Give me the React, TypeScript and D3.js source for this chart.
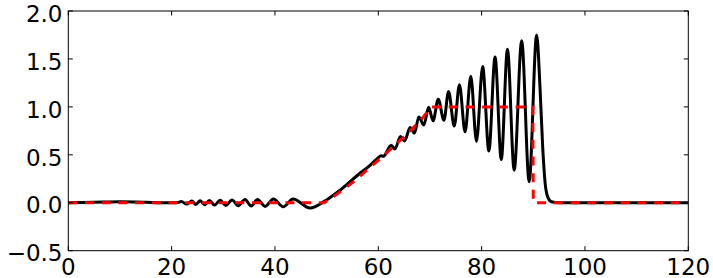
import { useRef, useEffect } from "react";
import * as d3 from "d3";

// black curve: x positions and heights (mostly the extrema)
const waveX = [
  0, 5, 10, 15, 18, 21,
  21.9, 22.9, 23.9, 24.7, 25.5, 26.4, 27.3, 28.3, 29.4, 30.5, 31.7, 32.9,
  34.2, 35.4, 36.6, 38.1, 39.7, 41.6, 43.5, 46.8,
  48, 50, 52.6, 56.5, 58.4, 59.8, 60.6, 61.0,
  62.5, 63.2, 64.3, 65.1, 66.15, 67.0, 67.85, 68.8, 69.75, 70.6,
  71.6, 72.7, 73.6, 74.7, 75.7, 76.8, 77.9, 79.0, 80.2, 81.4,
  82.6, 83.8, 85.0, 86.3, 87.75, 89.2, 90.65,
  91.3, 91.8, 92.3, 92.8, 93.5, 95, 120,
];
const waveY = [
  0, 0.005, 0.01, 0.005, 0, 0,
  0.012, -0.014, 0.018, -0.018, 0.02, -0.02, 0.024, -0.024, 0.027, -0.028, 0.03, -0.03,
  0.033, -0.034, 0.035, -0.038, 0.04, -0.042, 0.04, -0.055,
  -0.035, 0.03, 0.13, 0.31, 0.39, 0.46, 0.49, 0.485,
  0.6, 0.56, 0.69, 0.645, 0.785, 0.725, 0.895, 0.81, 0.995, 0.855,
  1.08, 0.86, 1.16, 0.8, 1.23, 0.74, 1.32, 0.64, 1.42, 0.54,
  1.52, 0.45, 1.6, 0.34, 1.69, 0.22, 1.75,
  1.2, 0.6, 0.2, 0.06, 0.01, 0, 0,
];

// red dashed reference profile
const refX = [0, 49.5, 52, 55, 58, 61, 64, 66, 68, 70.3, 89.9, 90.0, 120];
const refY = [0, 0, 0.09, 0.21, 0.35, 0.49, 0.64, 0.74, 0.85, 1.0, 1.0, 0, 0];

const xTicks = [0, 20, 40, 60, 80, 100, 120];
const yTicks = [-0.5, 0, 0.5, 1.0, 1.5, 2.0];

const W = 713;
const H = 278;

const Chart = () => {
  const svgRef = useRef(null);

  useEffect(() => {
    const svg = d3.select(svgRef.current);
    svg.selectAll("*").remove();

    const left = 68.3, right = 688.3, top = 11, bottom = 250.7;
    const x = d3.scaleLinear().domain([0, 120]).range([left, right]);
    const y = d3.scaleLinear().domain([-0.5, 2.0]).range([bottom, top]);

    const clip = svg.append("clipPath").attr("id", "plotclip");
    clip.append("rect").attr("x", left).attr("y", top)
      .attr("width", right - left).attr("height", bottom - top);

    const plot = svg.append("g").attr("clip-path", "url(#plotclip)");

    const wave = waveX.map((v, i) => [v, waveY[i]]);
    const ref = refX.map((v, i) => [v, refY[i]]);

    plot.append("path")
      .datum(wave)
      .attr("fill", "none")
      .attr("stroke", "#000")
      .attr("stroke-width", 3)
      .attr("stroke-linejoin", "round")
      .attr("d", d3.line().x((d) => x(d[0])).y((d) => y(d[1])).curve(d3.curveMonotoneX));

    plot.append("path")
      .datum(ref)
      .attr("fill", "none")
      .attr("stroke", "#ff0000")
      .attr("stroke-width", 3)
      .attr("stroke-dasharray", "9,7.7")
      .attr("d", d3.line().x((d) => x(d[0])).y((d) => y(d[1])));

    // frame
    svg.append("rect")
      .attr("x", left).attr("y", top)
      .attr("width", right - left).attr("height", bottom - top)
      .attr("fill", "none").attr("stroke", "#000").attr("stroke-width", 1);

    // ticks, inside on all four sides
    const tl = 4.5;
    const g = svg.append("g").attr("stroke", "#000").attr("stroke-width", 1);
    xTicks.forEach((t) => {
      g.append("line").attr("x1", x(t)).attr("x2", x(t)).attr("y1", bottom).attr("y2", bottom - tl);
      g.append("line").attr("x1", x(t)).attr("x2", x(t)).attr("y1", top).attr("y2", top + tl);
    });
    yTicks.forEach((t) => {
      g.append("line").attr("x1", left).attr("x2", left + tl).attr("y1", y(t)).attr("y2", y(t));
      g.append("line").attr("x1", right).attr("x2", right - tl).attr("y1", y(t)).attr("y2", y(t));
    });

    const fmt = (v) => (v < 0 ? "\u2212" : "") + Math.abs(v).toFixed(1);

    svg.append("g")
      .selectAll("text")
      .data(xTicks)
      .join("text")
      .attr("x", (d) => x(d))
      .attr("y", 275)
      .attr("text-anchor", "middle")
      .attr("font-family", "DejaVu Sans")
      .attr("font-size", 23)
      .text((d) => d);

    svg.append("g")
      .selectAll("text")
      .data(yTicks)
      .join("text")
      .attr("x", 62.5)
      .attr("y", (d) => y(d) + 10.7)
      .attr("text-anchor", "end")
      .attr("font-family", "DejaVu Sans")
      .attr("font-size", 23)
      .text((d) => fmt(d));
  }, []);

  return (
    <svg
      ref={svgRef}
      width={W}
      height={H}
      style={{ position: "absolute", left: 0, top: 0, background: "#fff" }}
    ></svg>
  );
};

export default function App() {
  return <Chart />;
}
